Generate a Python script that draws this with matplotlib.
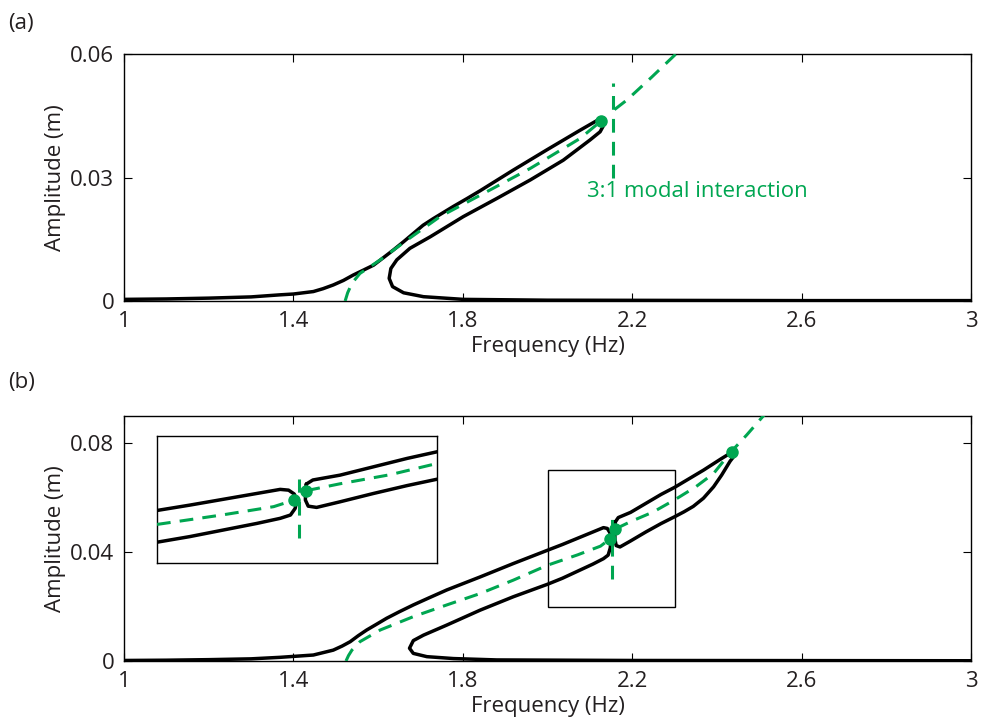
import matplotlib
matplotlib.use('Agg')
import matplotlib.pyplot as plt
from matplotlib.patches import Rectangle

# ---- data ----
# panel (a): forced response (black) and backbone (green)
freq_a = [1.00, 1.10, 1.20, 1.30, 1.368, 1.40, 1.447, 1.470, 1.494, 1.518, 1.541, 1.565,
          1.589, 1.612, 1.636, 1.660, 1.683, 1.706, 1.730, 1.754, 1.778, 1.810, 1.841,
          1.919, 1.998, 2.077, 2.116, 2.127, 2.133, 2.132, 2.124, 2.100, 2.037, 1.959,
          1.880, 1.801, 1.723, 1.675, 1.644, 1.630, 1.626, 1.634, 1.660, 1.707, 1.801,
          2.000, 2.600, 3.000]
amp_a = [0.0004, 0.0005, 0.0007, 0.0010, 0.0015, 0.0017, 0.0023, 0.0030, 0.0039, 0.0050,
         0.0063, 0.0075, 0.0087, 0.0105, 0.0124, 0.0144, 0.0164, 0.0184, 0.0200, 0.0215,
         0.0230, 0.0249, 0.0268, 0.0318, 0.0367, 0.0415, 0.0438, 0.0441, 0.0436, 0.0426,
         0.0411, 0.0391, 0.0342, 0.0294, 0.0249, 0.0205, 0.0156, 0.0128, 0.0100, 0.0079,
         0.0055, 0.0035, 0.0020, 0.00105, 0.0004, 0.0002, 0.0001, 0.0001]

bb_freq_a = [1.522, 1.528, 1.538, 1.557, 1.605, 1.668, 1.746, 1.841, 1.959, 2.077, 2.126]
bb_amp_a = [0.0, 0.0020, 0.0043, 0.0067, 0.0100, 0.0148, 0.0205, 0.0257, 0.0322, 0.0395, 0.0437]
bb2_freq_a = [2.158, 2.187, 2.245, 2.305]
bb2_amp_a = [0.0465, 0.0488, 0.0543, 0.0602]
vert_freq_a = [2.155, 2.155]
vert_amp_a = [0.030, 0.053]
dot_freq_a = [2.126]
dot_amp_a = [0.0437]

# panel (b): main branch, isola, backbone
freq_b = [1.00, 1.10, 1.20, 1.30, 1.368, 1.447, 1.494, 1.515, 1.534, 1.553, 1.573, 1.595,
          1.620, 1.650, 1.683, 1.720, 1.762, 1.841, 1.919, 2.000, 2.035, 2.071, 2.107,
          2.132, 2.141, 2.147, 2.150, 2.148, 2.143, 2.132, 2.107, 2.071, 2.035, 2.000,
          1.919, 1.841, 1.762, 1.707, 1.683, 1.674, 1.683, 1.715, 1.778, 1.880, 2.200,
          3.000]
amp_b = [0.0002, 0.0003, 0.0005, 0.0008, 0.00135, 0.0022, 0.0040, 0.0055, 0.0071, 0.0093,
         0.0114, 0.0134, 0.0157, 0.0181, 0.0206, 0.0232, 0.0261, 0.0309, 0.0358, 0.0407,
         0.0428, 0.0451, 0.0474, 0.0490, 0.0487, 0.0472, 0.0448, 0.0415, 0.0389, 0.0376,
         0.0356, 0.0330, 0.0304, 0.0282, 0.0236, 0.0187, 0.0132, 0.0095, 0.0075, 0.0047,
         0.0028, 0.0016, 0.0009, 0.0004, 0.0002, 0.0001]

isola_freq = [2.160, 2.167, 2.196, 2.232, 2.268, 2.300, 2.368, 2.410, 2.432, 2.441, 2.440,
              2.431, 2.411, 2.392, 2.368, 2.344, 2.322, 2.300, 2.268, 2.232, 2.196, 2.171,
              2.162, 2.159, 2.159, 2.160]
isola_amp = [0.0511, 0.0527, 0.0546, 0.0579, 0.0612, 0.0638, 0.0701, 0.0743, 0.0764, 0.0763,
             0.0752, 0.0734, 0.0683, 0.0640, 0.0598, 0.0568, 0.0548, 0.0530, 0.0505, 0.0474,
             0.0441, 0.0419, 0.0424, 0.0448, 0.0494, 0.0511]

bb_freq_b = [1.524, 1.530, 1.538, 1.557, 1.605, 1.683, 1.762, 1.841, 1.919, 2.000, 2.071,
             2.125, 2.147]
bb_amp_b = [0.0, 0.0020, 0.0040, 0.0071, 0.0114, 0.0163, 0.0206, 0.0248, 0.0297, 0.0352,
            0.0390, 0.0422, 0.0448]
bb2_freq_b = [2.160, 2.196, 2.250, 2.300, 2.350, 2.392, 2.433, 2.470, 2.512]
bb2_amp_b = [0.0485, 0.0512, 0.0548, 0.0592, 0.0640, 0.0689, 0.0768, 0.0830, 0.0905]
vert_freq_b = [2.152, 2.152]
vert_amp_b = [0.030, 0.053]
dot_freq_b = [2.147, 2.160, 2.435]
dot_amp_b = [0.0448, 0.0485, 0.0768]

xticks = [1, 1.4, 1.8, 2.2, 2.6, 3]
xticklabels = ['1', '1.4', '1.8', '2.2', '2.6', '3']
yticks_a = [0, 0.03, 0.06]
yticklabels_a = ['0', '0.03', '0.06']
yticks_b = [0, 0.04, 0.08]
yticklabels_b = ['0', '0.04', '0.08']
zoom_box = (2.0, 2.3, 0.02, 0.07)

green = '#00a651'
txtcol = '#231f20'
plt.rcParams['font.family'] = ['Open Sans', 'DejaVu Sans']
plt.rcParams['font.size'] = 16

blk = dict(color='black', lw=2.5, solid_capstyle='round', solid_joinstyle='round', zorder=2)
dsh = dict(color=green, lw=2.2, ls=(0, (4.5, 3)), zorder=3)
dot = dict(color=green, marker='o', ms=8, ls='none', zorder=4)


def style(ax, yt, ytl, ylim):
    ax.set_xlim(1, 3)
    ax.set_ylim(*ylim)
    ax.set_xticks(xticks)
    ax.set_xticklabels(xticklabels)
    ax.set_yticks(yt)
    ax.set_yticklabels(ytl)
    ax.tick_params(direction='in', length=6, width=0.8, top=True, right=True,
                   labelcolor=txtcol, pad=7)
    for s in ax.spines.values():
        s.set_linewidth(1.0)
    ax.set_xlabel('Frequency (Hz)', color=txtcol, labelpad=3)
    ax.set_ylabel('Amplitude (m)', color=txtcol, labelpad=3)


fig = plt.figure(figsize=(9.9, 7.21), dpi=100)
ax1 = fig.add_axes([0.1253, 0.5825, 0.8556, 0.3426])
ax2 = fig.add_axes([0.1253, 0.0832, 0.8556, 0.3398])

# (a)
ax1.plot(freq_a, amp_a, **blk)
ax1.plot(bb_freq_a, bb_amp_a, **dsh)
ax1.plot(vert_freq_a, vert_amp_a, **dsh)
ax1.plot(bb2_freq_a, bb2_amp_a, **dsh)
ax1.plot(dot_freq_a, dot_amp_a, **dot)
ax1.text(2.093, 0.0265, '3:1 modal interaction', color=green, ha='left', va='center')
style(ax1, yticks_a, yticklabels_a, (0, 0.06))

# (b)
ax2.plot(freq_b, amp_b, **blk)
ax2.plot(isola_freq, isola_amp, **blk)
ax2.plot(bb_freq_b, bb_amp_b, **dsh)
ax2.plot(vert_freq_b, vert_amp_b, **dsh)
ax2.plot(bb2_freq_b, bb2_amp_b, **dsh)
ax2.plot(dot_freq_b, dot_amp_b, **dot)
x0, x1, y0, y1 = zoom_box
ax2.add_patch(Rectangle((x0, y0), x1 - x0, y1 - y0, fill=False, lw=1.0, ec='black', zorder=1))
style(ax2, yticks_b, yticklabels_b, (0, 0.09))

# inset: zoom of the boxed region
axi = fig.add_axes([0.1586, 0.2191, 0.2828, 0.1761])
axi.plot(freq_b, amp_b, **blk)
axi.plot(isola_freq, isola_amp, **blk)
axi.plot(bb_freq_b, bb_amp_b, **dsh)
axi.plot(vert_freq_b, vert_amp_b, **dsh)
axi.plot(bb2_freq_b, bb2_amp_b, **dsh)
axi.plot(dot_freq_b, dot_amp_b, **dot)
axi.set_xlim(x0, x1)
axi.set_ylim(y0, y1)
axi.set_xticks([])
axi.set_yticks([])
for s in axi.spines.values():
    s.set_linewidth(1.0)

fig.text(0.008, 0.968, '(a)', color=txtcol, ha='left', va='center')
fig.text(0.008, 0.469, '(b)', color=txtcol, ha='left', va='center')

fig.savefig('out.png', dpi=100)
